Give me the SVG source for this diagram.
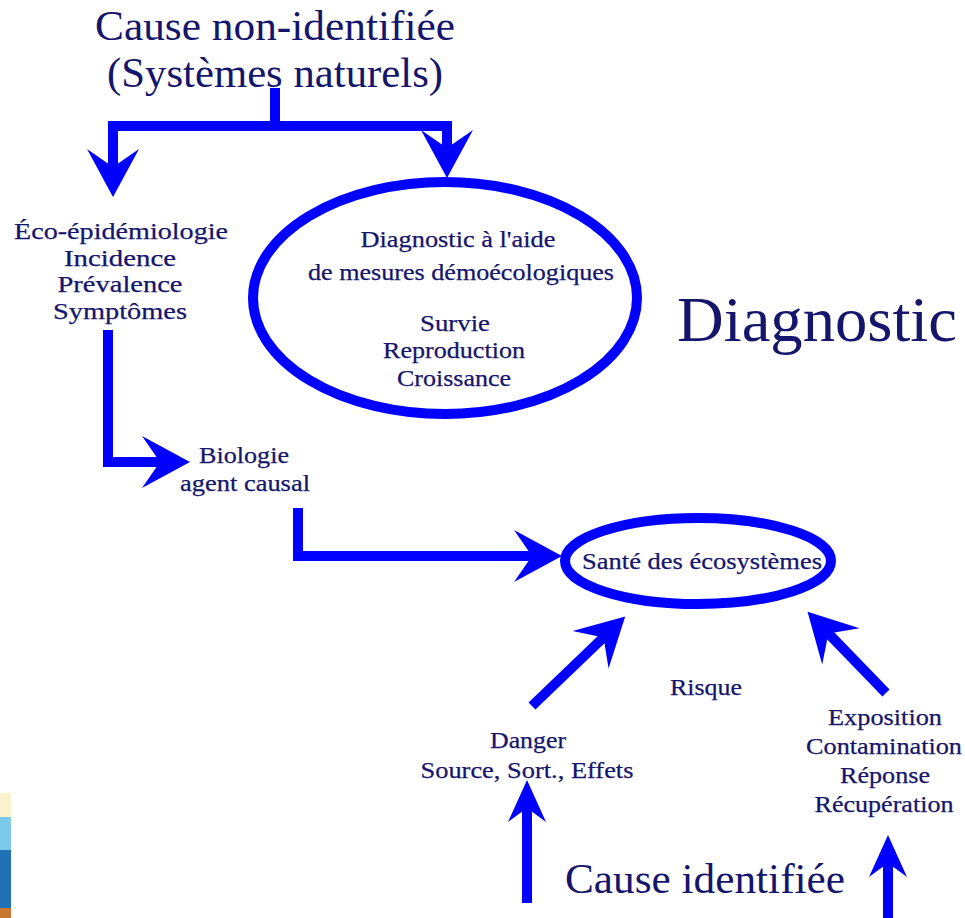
<svg xmlns="http://www.w3.org/2000/svg" width="965" height="918" viewBox="0 0 965 918">
  <style>
    text { font-family: "Liberation Serif", "Times New Roman", serif; fill: #15156b; text-anchor: middle; }
    .big { font-size: 42px; }
    .huge { font-size: 64px; }
    .lbl { font-size: 23px; stroke: #15156b; stroke-width: 0.25; }
    .wire { fill: none; stroke: #0000ff; stroke-width: 10; }
    .ring { fill: none; stroke: #0000ff; stroke-width: 10; }
  </style>
  <defs>
    <!-- barbed arrowhead; origin sits at the notch where the shaft ends -->
    <marker id="head" markerUnits="userSpaceOnUse" viewBox="-24 -28 56 56" markerWidth="56" markerHeight="56" refX="0" refY="0" orient="auto" overflow="visible">
      <path d="M28,0 L-20,-26 L-2,0 L-20,26 Z" fill="#0000ff"/>
    </marker>
    <marker id="headSm" markerUnits="userSpaceOnUse" viewBox="-24 -28 56 56" markerWidth="56" markerHeight="56" refX="0" refY="0" orient="auto" overflow="visible">
      <path d="M26,0 L-16,-19 L-2,0 L-16,19 Z" fill="#0000ff"/>
    </marker>
  </defs>

  <rect width="965" height="918" fill="#ffffff"/>

  <!-- colour strip at the lower left edge -->
  <g id="strip">
    <rect x="0" y="793" width="11" height="24" fill="#faf2cc"/>
    <rect x="0" y="817" width="11" height="33" fill="#7ccaea"/>
    <rect x="0" y="850" width="11" height="58" fill="#1f72b6"/>
    <rect x="0" y="908" width="11" height="10" fill="#c9772e"/>
  </g>

  <g id="connectors">
    <path class="wire" d="M275,88 V126"/>
    <path class="wire" d="M108,126 H452" stroke-linecap="butt"/>
    <path class="wire" d="M113,122 V169" marker-end="url(#head)"/>
    <path class="wire" d="M447,122 V150" marker-end="url(#head)"/>
    <path class="wire" d="M108,330 V462 H162" marker-end="url(#head)"/>
    <path class="wire" d="M298,508 V556 H534" marker-end="url(#head)"/>
    <path class="wire" d="M532,706 L605,636" stroke-width="12" marker-end="url(#head)"/>
    <path class="wire" d="M886,693 L827,632" stroke-width="12" marker-end="url(#head)"/>
    <path class="wire" d="M527,903 V806" marker-end="url(#headSm)"/>
    <path class="wire" d="M888,918 V861" marker-end="url(#headSm)"/>
  </g>

  <g id="cause-non-identifiee">
    <text class="big" x="275" y="40" textLength="360" lengthAdjust="spacingAndGlyphs">Cause non-identifiée</text>
    <text class="big" x="275" y="87" textLength="336" lengthAdjust="spacingAndGlyphs">(Systèmes naturels)</text>
  </g>

  <g id="eco-epidemiologie">
    <text class="lbl" x="121" y="239" textLength="214" lengthAdjust="spacingAndGlyphs">Éco-épidémiologie</text>
    <text class="lbl" x="120" y="266" textLength="112" lengthAdjust="spacingAndGlyphs">Incidence</text>
    <text class="lbl" x="120" y="292" textLength="125" lengthAdjust="spacingAndGlyphs">Prévalence</text>
    <text class="lbl" x="120" y="319" textLength="134" lengthAdjust="spacingAndGlyphs">Symptômes</text>
  </g>

  <g id="diagnostic-demoecologique">
    <ellipse class="ring" cx="445" cy="298" rx="192" ry="116"/>
    <text class="lbl" x="458" y="247" textLength="195" lengthAdjust="spacingAndGlyphs">Diagnostic à l'aide</text>
    <text class="lbl" x="461" y="280" textLength="306" lengthAdjust="spacingAndGlyphs">de mesures démoécologiques</text>
    <text class="lbl" x="455" y="331" textLength="70" lengthAdjust="spacingAndGlyphs">Survie</text>
    <text class="lbl" x="454" y="358" textLength="142" lengthAdjust="spacingAndGlyphs">Reproduction</text>
    <text class="lbl" x="454" y="386" textLength="114" lengthAdjust="spacingAndGlyphs">Croissance</text>
  </g>

  <g id="diagnostic-title">
    <text class="huge" x="817" y="341" textLength="280" lengthAdjust="spacingAndGlyphs">Diagnostic</text>
  </g>

  <g id="biologie">
    <text class="lbl" x="244" y="463" textLength="90" lengthAdjust="spacingAndGlyphs">Biologie</text>
    <text class="lbl" x="245" y="491" textLength="130" lengthAdjust="spacingAndGlyphs">agent causal</text>
  </g>

  <g id="sante">
    <ellipse class="ring" cx="698" cy="561" rx="133" ry="43"/>
    <text class="lbl" x="702" y="569" textLength="240" lengthAdjust="spacingAndGlyphs">Santé des écosystèmes</text>
  </g>

  <g id="risque">
    <text class="lbl" x="706" y="695" textLength="72" lengthAdjust="spacingAndGlyphs">Risque</text>
  </g>

  <g id="danger">
    <text class="lbl" x="528" y="748" textLength="76" lengthAdjust="spacingAndGlyphs">Danger</text>
    <text class="lbl" x="527" y="778" textLength="213" lengthAdjust="spacingAndGlyphs">Source, Sort., Effets</text>
  </g>

  <g id="exposition">
    <text class="lbl" x="885" y="725" textLength="114" lengthAdjust="spacingAndGlyphs">Exposition</text>
    <text class="lbl" x="884" y="754" textLength="156" lengthAdjust="spacingAndGlyphs">Contamination</text>
    <text class="lbl" x="885" y="783" textLength="90" lengthAdjust="spacingAndGlyphs">Réponse</text>
    <text class="lbl" x="884" y="812" textLength="139" lengthAdjust="spacingAndGlyphs">Récupération</text>
  </g>

  <g id="cause-identifiee">
    <text class="big" x="705" y="893" textLength="280" lengthAdjust="spacingAndGlyphs">Cause identifiée</text>
  </g>
</svg>
